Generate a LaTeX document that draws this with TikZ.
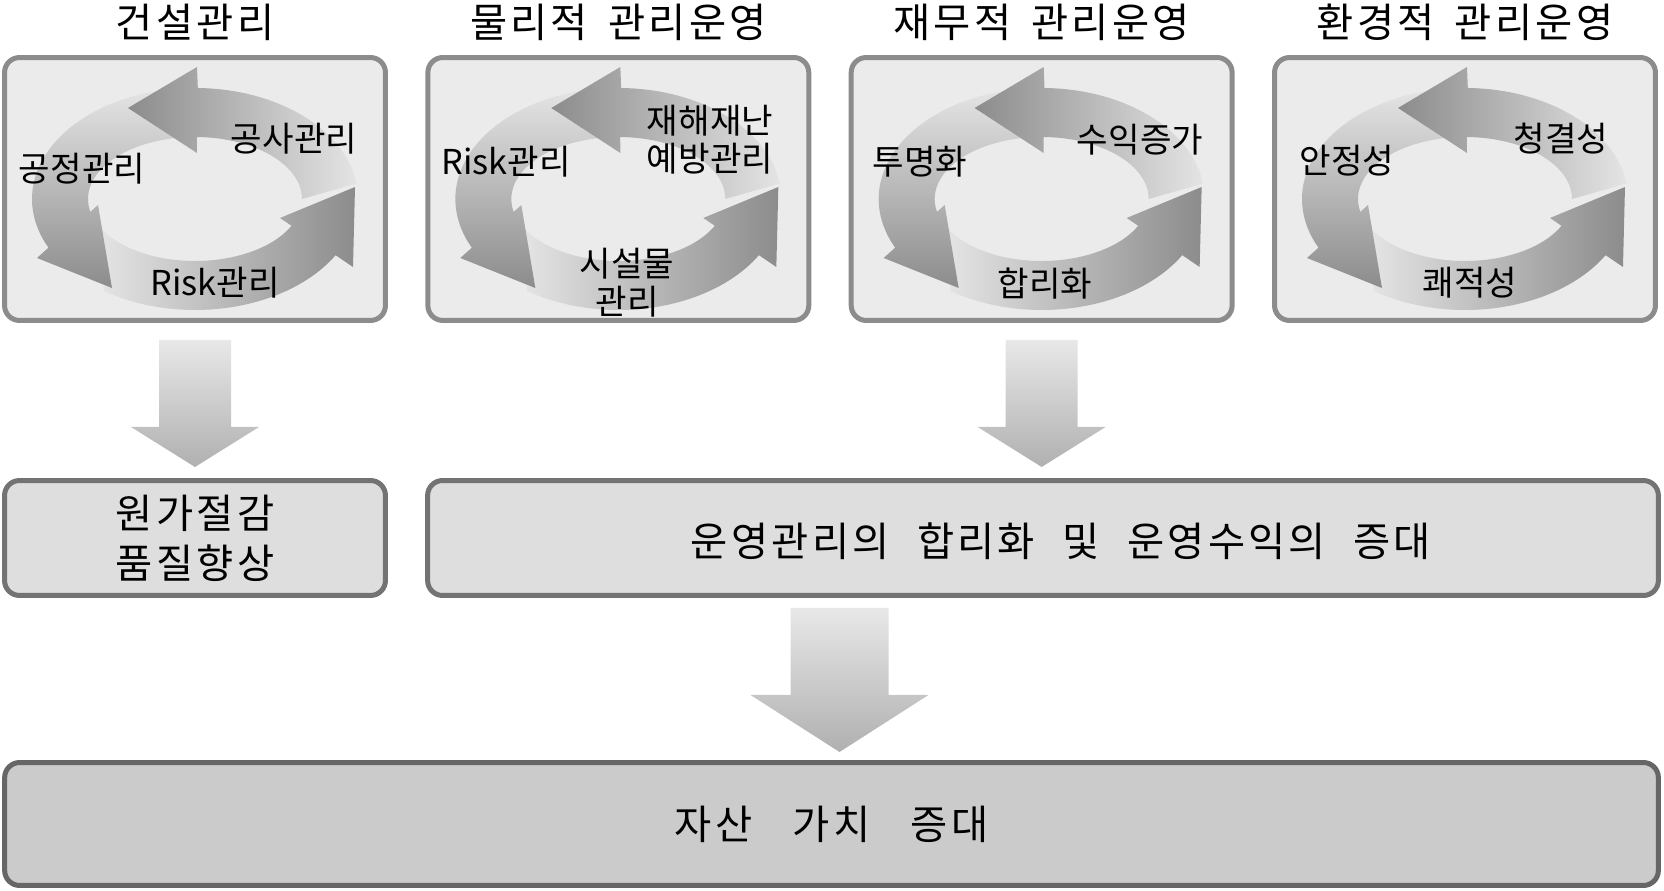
\documentclass[tikz,border=0pt]{standalone}
\usepackage{fontspec}
\setmainfont{Noto Sans CJK KR}
\newfontfamily\titlefont[LetterSpace=8]{Noto Sans CJK KR}
\newfontfamily\boxfont[LetterSpace=8]{Noto Sans CJK KR}
\usetikzlibrary{calc}
\definecolor{panelfill}{HTML}{EBEBEB}
\definecolor{panelline}{HTML}{8C8C8C}
\definecolor{boxfill}{HTML}{DEDEDE}
\definecolor{boxline}{HTML}{737373}
\definecolor{bigfill}{HTML}{CBCBCB}
\definecolor{bigline}{HTML}{666666}
\definecolor{arrowtop}{HTML}{E8E8E8}
\definecolor{arrowbot}{HTML}{B0B0B0}
\definecolor{ringlight}{HTML}{E4E4E4}
\definecolor{ringdark}{HTML}{8C8C8C}

\begin{document}
\begin{tikzpicture}[x=0.02cm,y=0.02cm,
  panel/.style={draw=panelline,line width=0.1cm,fill=panelfill,rounded corners=0.3cm,
    minimum width=7.62cm,minimum height=5.26cm,inner sep=0},
  boxtext/.style={font={\boxfont\fontsize{23}{28.45}\selectfont\spaceskip=0.68em\relax},align=center,inner sep=0},
  result/.style={boxtext,draw=boxline,line width=0.1cm,fill=boxfill,rounded corners=0.3cm,minimum height=2.3cm},
  heading/.style={font={\titlefont\fontsize{23}{26}\selectfont\spaceskip=0.5em\relax},inner sep=0},
  lbl/.style={font=\fontsize{19.5}{21.6}\selectfont,align=center,inner sep=0},
  fat/.style={top color=arrowtop,bottom color=arrowbot}]
\useasboundingbox (0,0) rectangle (1664,890);

\foreach \i/\ttl in {1/건설관리,2/물리적 관리운영,3/재무적 관리운영,4/환경적 관리운영}{
  \node[panel] (p\i) at (195+423.33*\i-423.33,701) {};
  \node[heading] (t\i) at (195+423.33*\i-423.33,868) {\ttl};
  \begin{scope}[shift={(p\i.center)},yshift=-0.2cm]
    \shade[left color=ringlight,right color=ringdark] (236:163 and 111)
      arc[start angle=236,end angle=329.6,x radius=163,y radius=111] -- (158,-68) -- (160,12) -- (85,-19)
      -- (334.4:107 and 62) arc[start angle=334.4,end angle=208,x radius=107,y radius=62] -- cycle;
    \shade[top color=ringlight,bottom color=ringdark] (100:163 and 111)
      arc[start angle=100,end angle=206,x radius=163,y radius=111] -- (-158,-59) -- (-83,-89) -- (-97,-6)
      -- (192:107 and 62) arc[start angle=192,end angle=100,x radius=107,y radius=62] -- cycle;
    \shade[left color=ringdark,right color=ringlight] (8:163 and 111)
      arc[start angle=8,end angle=89,x radius=163,y radius=111] -- (2,132) -- (-67,91) -- (2,46)
      -- (89:107 and 62) arc[start angle=89,end angle=0,x radius=107,y radius=62] -- cycle;
  \end{scope}
}

\node[lbl] (l1a) at (294,751) {공사관리};
\node[lbl] (l1b) at (82,721) {공정관리};
\node[lbl] (l1c) at (215,607) {Risk관리};
\node[lbl] (l2a) at (710,750) {재해재난\\예방관리};
\node[lbl] (l2b) at (506,728) {Risk관리};
\node[lbl] (l2c) at (627,607) {시설물\\관리};
\node[lbl] (l3a) at (1140,750) {수익증가};
\node[lbl] (l3b) at (920,728) {투명화};
\node[lbl] (l3c) at (1045,606) {합리화};
\node[lbl] (l4a) at (1561,751) {청결성};
\node[lbl] (l4b) at (1347,729) {안정성};
\node[lbl] (l4c) at (1470,607) {쾌적성};

\node[result,minimum width=7.62cm] (b1) at (195,352) {원가절감\\품질향상};
\node[result,minimum width=24.62cm] (b2) at (1043,352) {};
\node[boxtext] (b2t) at (1061,349) {운영관리의 합리화 및 운영수익의 증대};
\node[result,draw=bigline,fill=bigfill,minimum width=33.08cm,minimum height=2.46cm] (b3) at (831.5,66)
  {\spaceskip=1em\relax 자산 가치 증대};

\shade[fat] ($(p1.south)+(-36,-17)$) -- ++(72,0) -- ++(0,-87) -- ++(28,0) -- ++(-64,-40) -- ++(-64,40) -- ++(28,0) -- cycle;
\shade[fat] ($(p3.south)+(-36,-17)$) -- ++(72,0) -- ++(0,-87) -- ++(28,0) -- ++(-64,-40) -- ++(-64,40) -- ++(28,0) -- cycle;
\shade[fat] ($(b2.south -| b3.north)+(-41,-10)$) -- ++(98,0) -- ++(0,-87) -- ++(40,0) -- ++(-89,-57) -- ++(-89,57) -- ++(40,0) -- cycle;
\end{tikzpicture}
\end{document}
